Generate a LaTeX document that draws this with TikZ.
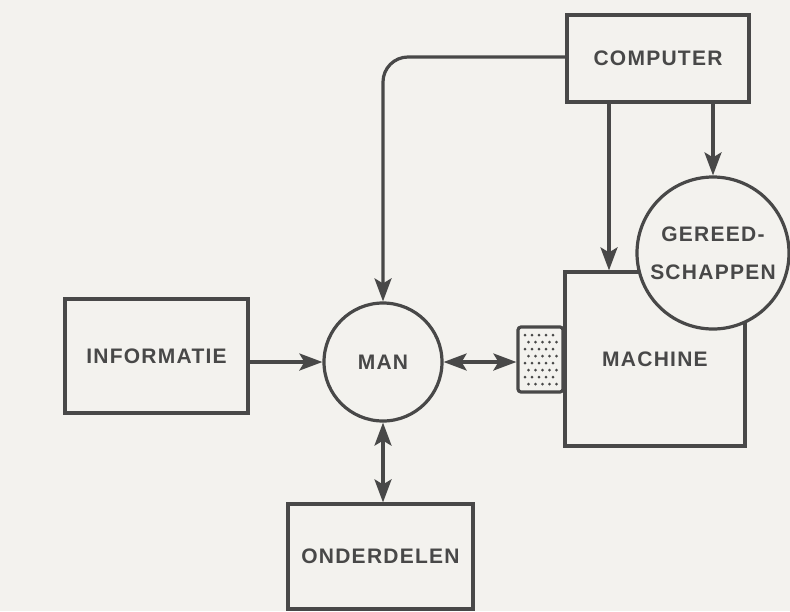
\documentclass[tikz,border=0pt]{standalone}
\usepackage{fontspec}
\newfontfamily\lblfont[LetterSpace=6]{Liberation Sans}
\usetikzlibrary{arrows.meta}
\definecolor{ink}{HTML}{484848}
\definecolor{paper}{HTML}{F3F2EE}
\begin{document}
\begin{tikzpicture}[x=1pt,y=-1pt,
  lbl/.style={text=ink, font=\lblfont\bfseries\fontsize{21}{38}\selectfont, align=center},
  boxnode/.style={lbl, draw=ink, line width=3.2pt, rectangle, inner sep=0pt},
  circnode/.style={lbl, draw=ink, line width=3.2pt, circle, inner sep=0pt, fill=paper},
  conn/.style={draw=ink, line width=3.2pt},
  arr/.style={conn, -{Stealth[length=23pt,width=17pt,inset=5pt]}},
  darr/.style={conn, {Stealth[length=23pt,width=17pt,inset=5pt]}-{Stealth[length=23pt,width=17pt,inset=5pt]}}
]
\useasboundingbox (0,0) rectangle (790,611);
\clip (0,0) rectangle (790,611);
\fill[paper] (0,0) rectangle (790,611);

% nodes
\node[boxnode, minimum width=182pt, minimum height=87pt] (computer) at (658,58.5) {COMPUTER};
\node[boxnode, minimum width=183pt, minimum height=114pt] (informatie) at (156.5,356) {INFORMATIE};
\node[circnode, minimum size=118pt] (man) at (383,362) {MAN};
\node[boxnode, minimum width=180pt, minimum height=174pt] (machine) at (655,359) {\raisebox{-4pt}{MACHINE}};
\node[circnode, minimum size=152pt] (gereed) at (713,253) {GEREED-\\SCHAPPEN};
\node[boxnode, minimum width=185pt, minimum height=105pt] (onderdelen) at (380.5,556.5) {ONDERDELEN};
\node[draw=ink, line width=3.2pt, rectangle, rounded corners=3pt, minimum width=45pt, minimum height=65pt, inner sep=0pt, fill=paper] (handle) at (540.5,359.5) {};

% dots in the handle
\foreach \j in {0,...,7}{
  \pgfmathsetmacro{\off}{mod(\j,2)*3.5}
  \foreach \i in {0,...,4}{
    \fill[ink] (525+\i*7+\off, 335+\j*7) circle (1.5pt);
  }
}

% connectors
\draw[arr, rounded corners=25pt] (computer.west |- 0,57) -| (man.north);
\draw[arr] (computer.south -| 609,0) -- (machine.north -| 609,0);
\draw[arr] (computer.south -| 713,0) -- (gereed.north);
\draw[arr] (informatie.east |- 0,362) -- (man.west);
\draw[darr] (man.east) -- (handle.west |- man.east);
\draw[darr] (man.south) -- (onderdelen.north -| man.south);
\end{tikzpicture}
\end{document}
